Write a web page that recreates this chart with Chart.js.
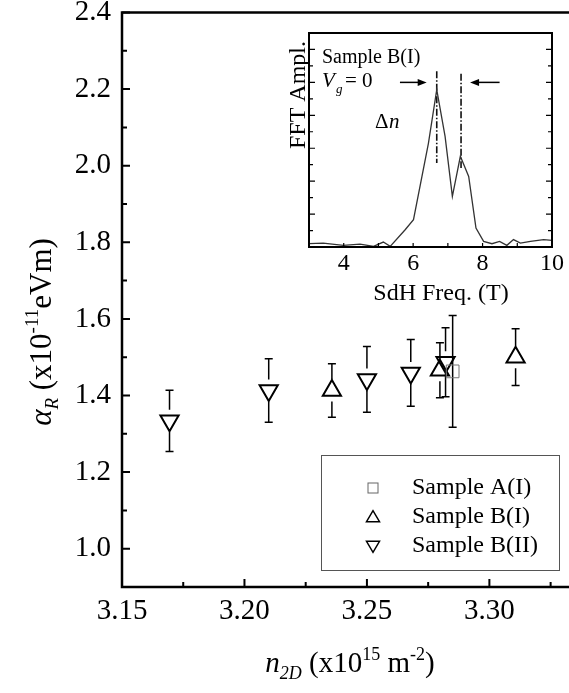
<!DOCTYPE html>
<html>
<head>
<meta charset="utf-8">
<script src="https://cdn.jsdelivr.net/npm/chart.js@4.4.1/dist/chart.umd.min.js"></script>
<style>
  html, body { margin: 0; padding: 0; background: #fff; }
  #wrap { position: relative; width: 569px; height: 693px; overflow: hidden; }
  #main { position: absolute; left: 0; top: 0; }
  #inset { position: absolute; left: 280px; top: 20px; }
</style>
</head>
<body>
<div id="wrap">
  <canvas id="main" width="569" height="693"></canvas>
  <canvas id="inset" width="289" height="290"></canvas>
</div>
<script>
// ---- main plot data: Rashba parameter vs carrier density ----
const sampleA_n = [3.2850];
const sampleA_alpha = [1.463];
const sampleA_err = [0.146];

const sampleBI_n = [3.2357, 3.2798, 3.3107];
const sampleBI_alpha = [1.413, 1.466, 1.500];
const sampleBI_err = [0.070, 0.072, 0.074];

const sampleBII_n = [3.1694, 3.2099, 3.2500, 3.2679, 3.2821];
const sampleBII_alpha = [1.334, 1.413, 1.442, 1.459, 1.487];
const sampleBII_err = [0.080, 0.083, 0.086, 0.087, 0.090];

const xMajorTicks = [3.15, 3.20, 3.25, 3.30];
const xMinorTicks = [3.175, 3.225, 3.275, 3.325];
const yMajorTicks = [1.0, 1.2, 1.4, 1.6, 1.8, 2.0, 2.2, 2.4];
const yMinorTicks = [1.1, 1.3, 1.5, 1.7, 1.9, 2.1, 2.3];

const legendLabels = ['Sample A(I)', 'Sample B(I)', 'Sample B(II)'];

// ---- inset data: FFT spectrum of SdH oscillations ----
const fftFreq = [3.0, 3.41, 3.99, 4.47, 4.86, 5.14, 5.34, 5.77, 6.01, 6.44, 6.68, 6.92, 7.13,
                 7.36, 7.60, 7.81, 8.03, 8.27, 8.49, 8.70, 8.89, 9.09, 9.38, 9.76, 10.0];
const fftAmpl = [0.020, 0.024, 0.010, 0.018, 0.004, 0.030, 0.004, 0.105, 0.166, 0.630, 0.956, 0.672, 0.308,
                 0.551, 0.429, 0.115, 0.034, 0.020, 0.034, 0.010, 0.045, 0.024, 0.034, 0.045, 0.040];
const insetXTicks = [4, 6, 8, 10];
const peakFreq = [6.68, 7.38];
const peakLineTop = [1.067, 1.053];
const peakLineBottom = [0.51, 0.48];
const arrowFrom = [5.62, 8.49];
const arrowTo = [6.39, 7.64];
const arrowLevel = 1.0;

const SERIF = "'Liberation Serif', 'Times New Roman', serif";

function toPoints(xs, ys) {
  return xs.map((x, i) => ({ x: x, y: ys[i] }));
}

function fontOf(p) {
  return (p.it ? 'italic ' : '') + p.size + 'px ' + SERIF;
}

// draw a line of text with sub/superscripts, centred on cx
function drawRich(ctx, parts, cx, baseline) {
  let w = 0;
  parts.forEach(p => { ctx.font = fontOf(p); w += ctx.measureText(p.t).width; });
  let x = cx - w / 2;
  ctx.textAlign = 'left';
  ctx.textBaseline = 'alphabetic';
  parts.forEach(p => {
    ctx.font = fontOf(p);
    ctx.fillText(p.t, x, baseline + (p.dy || 0));
    x += ctx.measureText(p.t).width;
  });
}

function triPath(ctx, x, y, w, h, down) {
  ctx.beginPath();
  if (down) {
    ctx.moveTo(x - w / 2, y - h / 3);
    ctx.lineTo(x + w / 2, y - h / 3);
    ctx.lineTo(x, y + 2 * h / 3);
  } else {
    ctx.moveTo(x - w / 2, y + h / 3);
    ctx.lineTo(x + w / 2, y + h / 3);
    ctx.lineTo(x, y - 2 * h / 3);
  }
  ctx.closePath();
}

const errorSets = [sampleA_err, sampleBI_err, sampleBII_err];
const errorGaps = [0, 11, 11];

const mainPlugin = {
  id: 'mainDecor',
  beforeDatasetsDraw(chart) {
    const ctx = chart.ctx;
    const xs = chart.scales.x, ys = chart.scales.y;
    ctx.save();
    ctx.strokeStyle = '#000';
    ctx.lineWidth = 1.5;
    chart.data.datasets.forEach((ds, di) => {
      ds.data.forEach((pt, i) => {
        const e = errorSets[di][i];
        const px = xs.getPixelForValue(pt.x);
        const py = ys.getPixelForValue(pt.y);
        const top = ys.getPixelForValue(pt.y + e);
        const bot = ys.getPixelForValue(pt.y - e);
        const g = errorGaps[di];
        ctx.beginPath();
        ctx.moveTo(px, top); ctx.lineTo(px, py - g);
        ctx.moveTo(px, py + g); ctx.lineTo(px, bot);
        ctx.moveTo(px - 4, top); ctx.lineTo(px + 4, top);
        ctx.moveTo(px - 4, bot); ctx.lineTo(px + 4, bot);
        ctx.stroke();
      });
    });
    ctx.restore();
  },
  afterDraw(chart) {
    const ctx = chart.ctx;
    const a = chart.chartArea;
    const xs = chart.scales.x, ys = chart.scales.y;
    ctx.save();
    // frame (left, bottom, top)
    ctx.strokeStyle = '#000';
    ctx.lineWidth = 2.5;
    ctx.beginPath();
    ctx.moveTo(chart.width, a.top);
    ctx.lineTo(a.left, a.top);
    ctx.lineTo(a.left, a.bottom);
    ctx.lineTo(chart.width, a.bottom);
    ctx.stroke();
    // inward ticks
    ctx.lineWidth = 2;
    ctx.beginPath();
    xMajorTicks.forEach(v => { const p = xs.getPixelForValue(v); ctx.moveTo(p, a.bottom); ctx.lineTo(p, a.bottom - 8); });
    xMinorTicks.forEach(v => { const p = xs.getPixelForValue(v); ctx.moveTo(p, a.bottom); ctx.lineTo(p, a.bottom - 5); });
    yMajorTicks.forEach(v => { const p = ys.getPixelForValue(v); ctx.moveTo(a.left, p); ctx.lineTo(a.left + 8, p); });
    yMinorTicks.forEach(v => { const p = ys.getPixelForValue(v); ctx.moveTo(a.left, p); ctx.lineTo(a.left + 5, p); });
    ctx.stroke();

    // axis titles
    ctx.fillStyle = '#000';
    drawRich(ctx, [
      { t: 'n', it: true, size: 29 },
      { t: '2D', it: true, size: 18, dy: 7 },
      { t: ' (x10', size: 29 },
      { t: '15', size: 18, dy: -12 },
      { t: ' m', size: 29 },
      { t: '-2', size: 18, dy: -12 },
      { t: ')', size: 29 }
    ], 350, 672);

    ctx.save();
    ctx.translate(51, 332);
    ctx.rotate(-Math.PI / 2);
    drawRich(ctx, [
      { t: '\u03B1', it: true, size: 31 },
      { t: 'R', it: true, size: 19, dy: 7 },
      { t: ' (x10', size: 31 },
      { t: '-11', size: 19, dy: -13 },
      { t: 'eVm)', size: 31 }
    ], 0, 0);
    ctx.restore();

    // legend box
    ctx.strokeStyle = '#555';
    ctx.lineWidth = 1;
    ctx.strokeRect(321.5, 455.5, 238, 115);
    const rows = [488, 517, 546];
    const mx = 373;
    ctx.strokeStyle = '#666';
    ctx.strokeRect(mx - 5, rows[0] - 5, 10, 10);
    ctx.strokeStyle = '#000';
    ctx.lineWidth = 1.5;
    triPath(ctx, mx, rows[1] + 1, 13, 11, false); ctx.stroke();
    triPath(ctx, mx, rows[2] - 1, 13, 11, true); ctx.stroke();
    ctx.fillStyle = '#000';
    ctx.font = '24px ' + SERIF;
    ctx.textAlign = 'left';
    ctx.textBaseline = 'middle';
    legendLabels.forEach((l, i) => ctx.fillText(l, 412, rows[i]));
    ctx.restore();
  }
};

new Chart(document.getElementById('main'), {
  type: 'scatter',
  data: {
    datasets: [
      { label: legendLabels[0], data: toPoints(sampleA_n, sampleA_alpha), pointStyle: 'rect', pointRadius: 9,
        borderColor: '#777', borderWidth: 1, backgroundColor: 'rgba(0,0,0,0)' },
      { label: legendLabels[1], data: toPoints(sampleBI_n, sampleBI_alpha), pointStyle: 'triangle', pointRadius: 10.5,
        borderColor: '#000', borderWidth: 2, backgroundColor: 'rgba(0,0,0,0)' },
      { label: legendLabels[2], data: toPoints(sampleBII_n, sampleBII_alpha), pointStyle: 'triangle', pointRotation: 180,
        pointRadius: 10.5, borderColor: '#000', borderWidth: 2, backgroundColor: 'rgba(0,0,0,0)' }
    ]
  },
  options: {
    responsive: false,
    animation: false,
    events: [],
    layout: { padding: { left: 0, right: 0, top: 12, bottom: 0 } },
    plugins: { legend: { display: false }, tooltip: { enabled: false } },
    scales: {
      x: {
        type: 'linear', min: 3.15, max: 3.3274,
        afterBuildTicks: s => { s.ticks = xMajorTicks.map(v => ({ value: v })); },
        afterFit: s => { s.height = 106; s.paddingLeft = 0; s.paddingRight = 0; },
        grid: { display: false, drawTicks: false },
        border: { display: false },
        ticks: { font: { family: SERIF, size: 29 }, color: '#000', padding: 7, maxRotation: 0, autoSkip: false,
                 callback: v => Number(v).toFixed(2) }
      },
      y: {
        type: 'linear', min: 0.9, max: 2.4,
        afterBuildTicks: s => { s.ticks = yMajorTicks.map(v => ({ value: v })); },
        afterFit: s => { s.width = 122; s.paddingTop = 0; s.paddingBottom = 0; },
        grid: { display: false, drawTicks: false },
        border: { display: false },
        ticks: { font: { family: SERIF, size: 29 }, color: '#000', padding: 11,
                 callback: v => Number(v).toFixed(1) }
      }
    }
  },
  plugins: [mainPlugin]
});

// ---- inset ----
const insetPlugin = {
  id: 'insetDecor',
  afterDraw(chart) {
    const ctx = chart.ctx;
    const a = chart.chartArea;
    const xs = chart.scales.x, ys = chart.scales.y;
    ctx.save();
    ctx.strokeStyle = '#000';
    ctx.lineWidth = 2;
    ctx.strokeRect(a.left, a.top, a.right - a.left, a.bottom - a.top);
    ctx.lineWidth = 1.2;
    ctx.beginPath();
    for (let k = 1; k < 13; k++) {
      const p = ys.getPixelForValue(k / 10);
      const len = k % 2 === 0 ? 6 : 4;
      ctx.moveTo(a.left, p); ctx.lineTo(a.left + len, p);
      ctx.moveTo(a.right, p); ctx.lineTo(a.right - len, p);
    }
    for (let f = 4; f < 10; f++) {
      const p = xs.getPixelForValue(f);
      ctx.moveTo(p, a.bottom); ctx.lineTo(p, a.bottom - 4);
    }
    ctx.stroke();

    // arrows pointing at the two peaks
    ctx.lineWidth = 1.5;
    const ay = ys.getPixelForValue(arrowLevel);
    arrowFrom.forEach((f, i) => {
      const x0 = xs.getPixelForValue(f), x1 = xs.getPixelForValue(arrowTo[i]);
      const dir = Math.sign(x1 - x0);
      ctx.beginPath();
      ctx.moveTo(x0, ay); ctx.lineTo(x1 - dir * 6, ay);
      ctx.stroke();
      ctx.beginPath();
      ctx.moveTo(x1, ay);
      ctx.lineTo(x1 - dir * 9, ay - 3.5);
      ctx.lineTo(x1 - dir * 9, ay + 3.5);
      ctx.closePath();
      ctx.fillStyle = '#000';
      ctx.fill();
    });

    // labels
    ctx.fillStyle = '#000';
    ctx.textAlign = 'left';
    ctx.textBaseline = 'alphabetic';
    ctx.font = '20px ' + SERIF;
    ctx.fillText('Sample B(I)', a.left + 13, a.top + 30);
    ctx.font = 'italic 21px ' + SERIF;
    ctx.fillText('V', a.left + 13, a.top + 54);
    ctx.font = 'italic 13px ' + SERIF;
    ctx.fillText('g', a.left + 27, a.top + 60);
    ctx.font = '21px ' + SERIF;
    ctx.fillText('= 0', a.left + 36, a.top + 54);
    ctx.font = '21px ' + SERIF;
    ctx.fillText('\u0394', a.left + 66, a.top + 95);
    ctx.font = 'italic 21px ' + SERIF;
    ctx.fillText('n', a.left + 80, a.top + 95);

    ctx.font = '24px ' + SERIF;
    ctx.textAlign = 'center';
    ctx.fillText('SdH Freq. (T)', 161, 280);
    ctx.save();
    ctx.translate(25, 75);
    ctx.rotate(-Math.PI / 2);
    ctx.fillText('FFT Ampl.', 0, 0);
    ctx.restore();
    ctx.restore();
  }
};

const peakLines = peakFreq.map((f, i) => ({
  data: [{ x: f, y: peakLineTop[i] }, { x: f, y: peakLineBottom[i] }],
  showLine: true, borderColor: '#111', borderWidth: 1.6, borderDash: [7, 2, 1.5, 2], pointRadius: 0
}));

new Chart(document.getElementById('inset'), {
  type: 'scatter',
  data: {
    datasets: [
      { data: toPoints(fftFreq, fftAmpl), showLine: true, borderColor: '#333', borderWidth: 1.3,
        pointRadius: 0, tension: 0 }
    ].concat(peakLines)
  },
  options: {
    responsive: false,
    animation: false,
    events: [],
    layout: { padding: { left: 0, right: 17, top: 13, bottom: 0 } },
    plugins: { legend: { display: false }, tooltip: { enabled: false } },
    scales: {
      x: {
        type: 'linear', min: 3, max: 10,
        afterBuildTicks: s => { s.ticks = insetXTicks.map(v => ({ value: v })); },
        afterFit: s => { s.height = 63; s.paddingLeft = 0; s.paddingRight = 0; },
        grid: { display: false, drawTicks: false },
        border: { display: false },
        ticks: { font: { family: SERIF, size: 24 }, color: '#000', padding: 2, maxRotation: 0, autoSkip: false }
      },
      y: {
        type: 'linear', min: 0, max: 1.3,
        afterFit: s => { s.width = 29; s.paddingTop = 0; s.paddingBottom = 0; },
        grid: { display: false, drawTicks: false },
        border: { display: false },
        ticks: { display: false }
      }
    }
  },
  plugins: [insetPlugin]
});
</script>
</body>
</html>
